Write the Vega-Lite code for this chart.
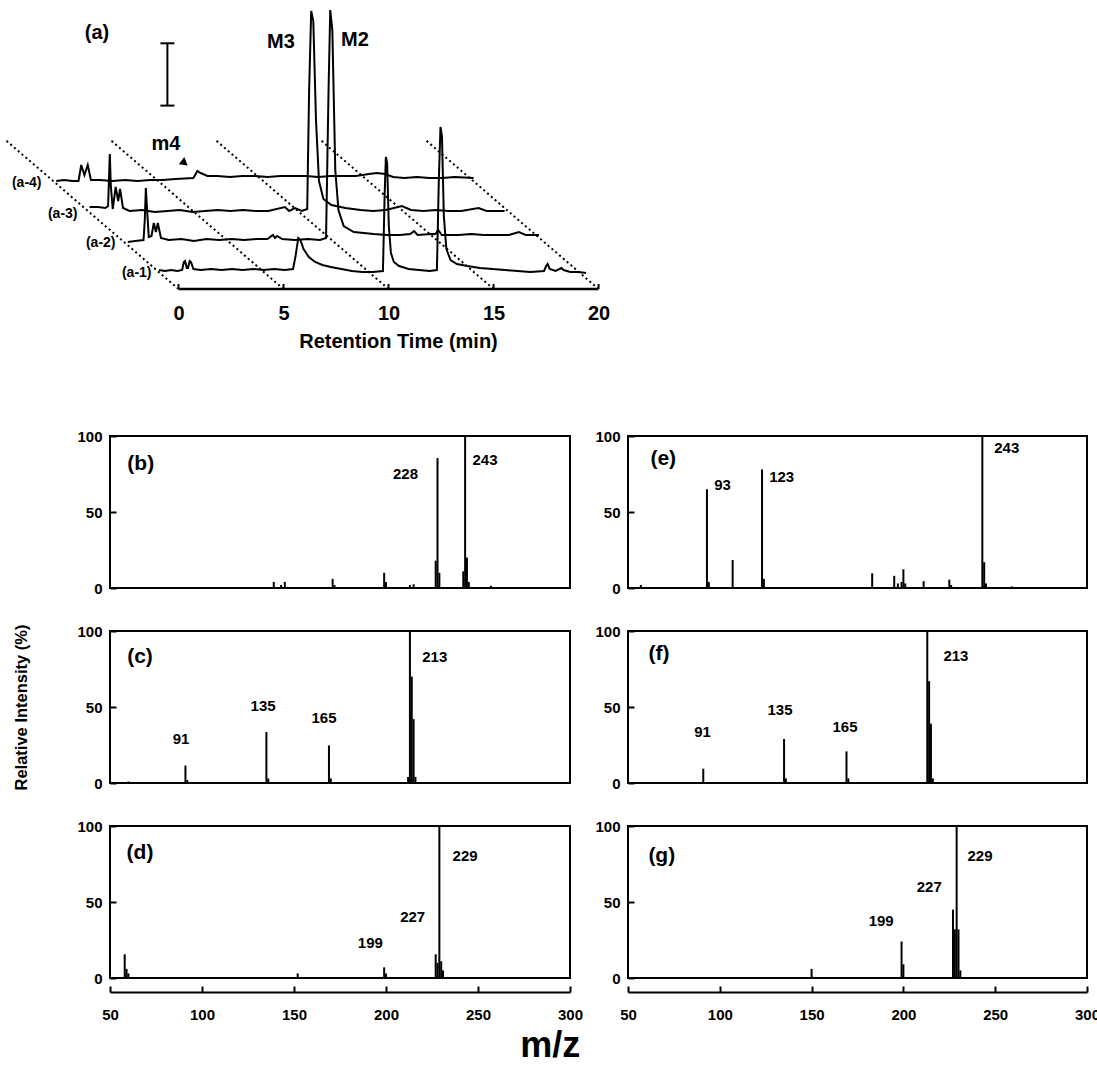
{
  "$schema": "https://vega.github.io/schema/vega-lite/v6.json",
  "padding": 0,
  "background": "white",
  "config": {
    "font": "Liberation Sans",
    "view": {"stroke": "black", "strokeWidth": 2},
    "axis": {"grid": false, "labelColor": "black", "titleColor": "black", "labelFont": "Liberation Sans", "titleFont": "Liberation Sans", "labelFontWeight": "bold", "titleFontWeight": "bold", "labelFlush": false, "labelOverlap": false, "tickColor": "black", "tickWidth": 2, "domainColor": "black", "domainWidth": 2, "labelFontSize": 15},
    "axisY": {"domain": false, "tickSize": -6, "labelPadding": 14},
    "axisX": {"tickSize": -6, "labelPadding": 21, "offset": 14},
    "text": {"font": "Liberation Sans", "fontWeight": "bold", "color": "black"},
    "rule": {"color": "black"},
    "line": {"color": "black"},
    "point": {"color": "black", "filled": true, "opacity": 1},
    "title": {"font": "Liberation Sans", "color": "black"}
  },
  "datasets": {
    "grid": [{"t": 0}, {"t": 5}, {"t": 10}, {"t": 15}, {"t": 20}],
    "axisline": [{"from": 0, "to": 20}],
    "tracelabels": [{"trace": "a-1", "label": "(a-1)"}, {"trace": "a-2", "label": "(a-2)"}, {"trace": "a-3", "label": "(a-3)"}, {"trace": "a-4", "label": "(a-4)"}],
    "annot": [{"t": -3.88, "h": 256, "text": "(a)"}, {"t": 4.88, "h": 247.5, "text": "M3"}, {"t": 8.4, "h": 249, "text": "M2"}, {"t": -0.6, "h": 145, "text": "m4"}],
    "arrow": [{"t": 0.29, "h": 126}],
    "scalebar": [{"t": -0.53, "lo": 183.4, "hi": 245.7}],
    "chrom": [
      {"trace":"a-1","t":0.12,"h":1},{"trace":"a-1","t":0.4,"h":0},{"trace":"a-1","t":0.7,"h":1},{"trace":"a-1","t":1.0,"h":0},{"trace":"a-1","t":1.22,"h":1},{"trace":"a-1","t":1.3,"h":9},{"trace":"a-1","t":1.36,"h":10},{"trace":"a-1","t":1.44,"h":3},{"trace":"a-1","t":1.5,"h":3},{"trace":"a-1","t":1.58,"h":10},{"trace":"a-1","t":1.64,"h":9},{"trace":"a-1","t":1.76,"h":2},{"trace":"a-1","t":2.1,"h":1},{"trace":"a-1","t":2.6,"h":2},{"trace":"a-1","t":3.1,"h":1},{"trace":"a-1","t":3.6,"h":2},{"trace":"a-1","t":4.1,"h":1},{"trace":"a-1","t":4.6,"h":2},{"trace":"a-1","t":5.1,"h":1},{"trace":"a-1","t":5.6,"h":2},{"trace":"a-1","t":6.1,"h":1},{"trace":"a-1","t":6.5,"h":2},{"trace":"a-1","t":6.62,"h":15},{"trace":"a-1","t":6.75,"h":33},{"trace":"a-1","t":6.85,"h":31},{"trace":"a-1","t":7.0,"h":22},{"trace":"a-1","t":7.25,"h":14},{"trace":"a-1","t":7.55,"h":9},{"trace":"a-1","t":7.9,"h":6},{"trace":"a-1","t":8.3,"h":4},{"trace":"a-1","t":8.8,"h":2},{"trace":"a-1","t":9.3,"h":0},{"trace":"a-1","t":9.8,"h":-1},{"trace":"a-1","t":10.3,"h":-1},{"trace":"a-1","t":10.78,"h":0},{"trace":"a-1","t":10.86,"h":75},{"trace":"a-1","t":10.92,"h":114},{"trace":"a-1","t":10.98,"h":108},{"trace":"a-1","t":11.06,"h":45},{"trace":"a-1","t":11.16,"h":18},{"trace":"a-1","t":11.3,"h":9},{"trace":"a-1","t":11.55,"h":5},{"trace":"a-1","t":12.0,"h":2},{"trace":"a-1","t":12.5,"h":1},{"trace":"a-1","t":13.0,"h":0},{"trace":"a-1","t":13.35,"h":1},{"trace":"a-1","t":13.44,"h":90},{"trace":"a-1","t":13.52,"h":144},{"trace":"a-1","t":13.59,"h":135},{"trace":"a-1","t":13.68,"h":55},{"trace":"a-1","t":13.8,"h":22},{"trace":"a-1","t":14.0,"h":11},{"trace":"a-1","t":14.3,"h":7},{"trace":"a-1","t":14.8,"h":5},{"trace":"a-1","t":15.4,"h":3},{"trace":"a-1","t":16.0,"h":2},{"trace":"a-1","t":16.6,"h":1},{"trace":"a-1","t":17.2,"h":0},{"trace":"a-1","t":17.8,"h":-1},{"trace":"a-1","t":18.45,"h":0},{"trace":"a-1","t":18.55,"h":5},{"trace":"a-1","t":18.62,"h":7},{"trace":"a-1","t":18.72,"h":2},{"trace":"a-1","t":19.0,"h":0},{"trace":"a-1","t":19.28,"h":3},{"trace":"a-1","t":19.38,"h":1},{"trace":"a-1","t":19.7,"h":-1},{"trace":"a-1","t":20.1,"h":-1},{"trace":"a-1","t":20.45,"h":-2},
      {"trace":"a-2","t":0.25,"h":-2},{"trace":"a-2","t":0.6,"h":-1},{"trace":"a-2","t":1.0,"h":0},{"trace":"a-2","t":1.06,"h":20},{"trace":"a-2","t":1.11,"h":52},{"trace":"a-2","t":1.17,"h":30},{"trace":"a-2","t":1.25,"h":3},{"trace":"a-2","t":1.38,"h":4},{"trace":"a-2","t":1.49,"h":17},{"trace":"a-2","t":1.59,"h":8},{"trace":"a-2","t":1.68,"h":17},{"trace":"a-2","t":1.83,"h":2},{"trace":"a-2","t":2.2,"h":0},{"trace":"a-2","t":2.8,"h":1},{"trace":"a-2","t":3.4,"h":-1},{"trace":"a-2","t":4.0,"h":1},{"trace":"a-2","t":4.6,"h":0},{"trace":"a-2","t":5.2,"h":1},{"trace":"a-2","t":5.8,"h":0},{"trace":"a-2","t":6.4,"h":1},{"trace":"a-2","t":6.9,"h":1},{"trace":"a-2","t":7.16,"h":5},{"trace":"a-2","t":7.26,"h":2},{"trace":"a-2","t":7.36,"h":4},{"trace":"a-2","t":7.6,"h":1},{"trace":"a-2","t":8.2,"h":0},{"trace":"a-2","t":8.8,"h":1},{"trace":"a-2","t":9.4,"h":0},{"trace":"a-2","t":9.69,"h":2},{"trace":"a-2","t":9.81,"h":150},{"trace":"a-2","t":9.89,"h":230},{"trace":"a-2","t":9.99,"h":210},{"trace":"a-2","t":10.13,"h":70},{"trace":"a-2","t":10.28,"h":30},{"trace":"a-2","t":10.53,"h":14},{"trace":"a-2","t":11.01,"h":8},{"trace":"a-2","t":11.96,"h":6},{"trace":"a-2","t":12.6,"h":5},{"trace":"a-2","t":13.2,"h":5},{"trace":"a-2","t":13.7,"h":6},{"trace":"a-2","t":13.88,"h":9},{"trace":"a-2","t":14.05,"h":5},{"trace":"a-2","t":14.7,"h":6},{"trace":"a-2","t":14.9,"h":6},{"trace":"a-2","t":15.03,"h":10},{"trace":"a-2","t":15.2,"h":5},{"trace":"a-2","t":16.0,"h":5},{"trace":"a-2","t":16.6,"h":6},{"trace":"a-2","t":17.2,"h":5},{"trace":"a-2","t":17.8,"h":5},{"trace":"a-2","t":18.4,"h":5},{"trace":"a-2","t":18.87,"h":8},{"trace":"a-2","t":19.2,"h":5},{"trace":"a-2","t":19.83,"h":5},
      {"trace":"a-3","t":0.1,"h":4},{"trace":"a-3","t":0.5,"h":4},{"trace":"a-3","t":0.85,"h":3},{"trace":"a-3","t":0.98,"h":5},{"trace":"a-3","t":1.06,"h":57},{"trace":"a-3","t":1.11,"h":25},{"trace":"a-3","t":1.2,"h":2},{"trace":"a-3","t":1.34,"h":24},{"trace":"a-3","t":1.46,"h":10},{"trace":"a-3","t":1.55,"h":22},{"trace":"a-3","t":1.69,"h":3},{"trace":"a-3","t":2.0,"h":0},{"trace":"a-3","t":2.6,"h":1},{"trace":"a-3","t":3.2,"h":-1},{"trace":"a-3","t":3.8,"h":0},{"trace":"a-3","t":4.4,"h":1},{"trace":"a-3","t":5.0,"h":-1},{"trace":"a-3","t":5.6,"h":0},{"trace":"a-3","t":6.2,"h":1},{"trace":"a-3","t":6.8,"h":0},{"trace":"a-3","t":7.4,"h":1},{"trace":"a-3","t":8.0,"h":0},{"trace":"a-3","t":8.6,"h":0},{"trace":"a-3","t":9.4,"h":4},{"trace":"a-3","t":9.6,"h":0},{"trace":"a-3","t":9.88,"h":3},{"trace":"a-3","t":10.2,"h":0},{"trace":"a-3","t":10.46,"h":2},{"trace":"a-3","t":10.55,"h":120},{"trace":"a-3","t":10.65,"h":200},{"trace":"a-3","t":10.75,"h":190},{"trace":"a-3","t":10.88,"h":90},{"trace":"a-3","t":11.02,"h":30},{"trace":"a-3","t":11.23,"h":12},{"trace":"a-3","t":11.61,"h":6},{"trace":"a-3","t":12.28,"h":3},{"trace":"a-3","t":13.0,"h":1},{"trace":"a-3","t":13.6,"h":0},{"trace":"a-3","t":14.2,"h":1},{"trace":"a-3","t":14.97,"h":5},{"trace":"a-3","t":15.4,"h":1},{"trace":"a-3","t":16.0,"h":0},{"trace":"a-3","t":16.6,"h":1},{"trace":"a-3","t":17.2,"h":0},{"trace":"a-3","t":17.8,"h":0},{"trace":"a-3","t":18.62,"h":3},{"trace":"a-3","t":19.0,"h":0},{"trace":"a-3","t":19.86,"h":0},
      {"trace":"a-4","t":0.13,"h":0},{"trace":"a-4","t":0.5,"h":1},{"trace":"a-4","t":0.9,"h":0},{"trace":"a-4","t":1.19,"h":0},{"trace":"a-4","t":1.32,"h":16},{"trace":"a-4","t":1.47,"h":6},{"trace":"a-4","t":1.63,"h":16},{"trace":"a-4","t":1.78,"h":1},{"trace":"a-4","t":2.2,"h":1},{"trace":"a-4","t":2.8,"h":0},{"trace":"a-4","t":3.4,"h":1},{"trace":"a-4","t":4.0,"h":0},{"trace":"a-4","t":4.6,"h":1},{"trace":"a-4","t":5.2,"h":1},{"trace":"a-4","t":5.8,"h":2},{"trace":"a-4","t":6.66,"h":3},{"trace":"a-4","t":6.85,"h":10},{"trace":"a-4","t":7.0,"h":8},{"trace":"a-4","t":7.33,"h":5},{"trace":"a-4","t":7.8,"h":5},{"trace":"a-4","t":8.4,"h":4},{"trace":"a-4","t":9.0,"h":5},{"trace":"a-4","t":9.6,"h":5},{"trace":"a-4","t":10.2,"h":4},{"trace":"a-4","t":10.8,"h":5},{"trace":"a-4","t":11.4,"h":5},{"trace":"a-4","t":12.0,"h":5},{"trace":"a-4","t":12.6,"h":4},{"trace":"a-4","t":13.2,"h":5},{"trace":"a-4","t":13.8,"h":5},{"trace":"a-4","t":14.4,"h":5},{"trace":"a-4","t":15.02,"h":7},{"trace":"a-4","t":15.4,"h":8},{"trace":"a-4","t":15.78,"h":7},{"trace":"a-4","t":16.17,"h":4},{"trace":"a-4","t":16.7,"h":3},{"trace":"a-4","t":17.3,"h":4},{"trace":"a-4","t":17.9,"h":3},{"trace":"a-4","t":18.5,"h":3},{"trace":"a-4","t":19.1,"h":4},{"trace":"a-4","t":20.0,"h":3}
    ],
    "peaks": [
      {"panel":"b","mz":139,"ri":4},{"panel":"b","mz":143,"ri":2},{"panel":"b","mz":145,"ri":4},{"panel":"b","mz":171,"ri":6},{"panel":"b","mz":172,"ri":2},{"panel":"b","mz":199,"ri":10},{"panel":"b","mz":200,"ri":4},{"panel":"b","mz":213,"ri":2},{"panel":"b","mz":215,"ri":2.5},{"panel":"b","mz":227,"ri":18},{"panel":"b","mz":228,"ri":85.5},{"panel":"b","mz":229,"ri":10},{"panel":"b","mz":242,"ri":11},{"panel":"b","mz":243,"ri":100},{"panel":"b","mz":244,"ri":20},{"panel":"b","mz":245,"ri":4},{"panel":"b","mz":257,"ri":1.5},
      {"panel":"c","mz":60,"ri":1},{"panel":"c","mz":91,"ri":11.5},{"panel":"c","mz":92,"ri":2},{"panel":"c","mz":135,"ri":33.5},{"panel":"c","mz":136,"ri":3},{"panel":"c","mz":169,"ri":24.7},{"panel":"c","mz":170,"ri":3},{"panel":"c","mz":212,"ri":4},{"panel":"c","mz":213,"ri":100},{"panel":"c","mz":214,"ri":70},{"panel":"c","mz":215,"ri":42},{"panel":"c","mz":216,"ri":4},
      {"panel":"d","mz":58,"ri":15.6},{"panel":"d","mz":59,"ri":6},{"panel":"d","mz":60,"ri":3},{"panel":"d","mz":152,"ri":3},{"panel":"d","mz":199,"ri":7},{"panel":"d","mz":200,"ri":3},{"panel":"d","mz":227,"ri":15.6},{"panel":"d","mz":228,"ri":10},{"panel":"d","mz":229,"ri":100},{"panel":"d","mz":230,"ri":11},{"panel":"d","mz":231,"ri":5},
      {"panel":"e","mz":57,"ri":2},{"panel":"e","mz":93,"ri":65},{"panel":"e","mz":94,"ri":4},{"panel":"e","mz":107,"ri":18.4},{"panel":"e","mz":123,"ri":78},{"panel":"e","mz":124,"ri":6},{"panel":"e","mz":183,"ri":9.7},{"panel":"e","mz":195,"ri":8},{"panel":"e","mz":197,"ri":3},{"panel":"e","mz":199,"ri":4},{"panel":"e","mz":200,"ri":12.3},{"panel":"e","mz":201,"ri":3},{"panel":"e","mz":211,"ri":4.5},{"panel":"e","mz":225,"ri":5.5},{"panel":"e","mz":226,"ri":2},{"panel":"e","mz":243,"ri":100},{"panel":"e","mz":244,"ri":17},{"panel":"e","mz":245,"ri":3},{"panel":"e","mz":259,"ri":1},
      {"panel":"f","mz":91,"ri":9.4},{"panel":"f","mz":135,"ri":29},{"panel":"f","mz":136,"ri":3},{"panel":"f","mz":169,"ri":20.8},{"panel":"f","mz":170,"ri":3},{"panel":"f","mz":213,"ri":100},{"panel":"f","mz":214,"ri":67},{"panel":"f","mz":215,"ri":39},{"panel":"f","mz":216,"ri":3},
      {"panel":"g","mz":150,"ri":6},{"panel":"g","mz":199,"ri":24},{"panel":"g","mz":200,"ri":9},{"panel":"g","mz":227,"ri":45},{"panel":"g","mz":228,"ri":32},{"panel":"g","mz":229,"ri":100},{"panel":"g","mz":230,"ri":32},{"panel":"g","mz":231,"ri":5}
    ],
    "labels": [
      {"panel":"b","text":"228","lx":210.6,"ly":75.3},{"panel":"b","text":"243","lx":253.8,"ly":84.5},
      {"panel":"c","text":"91","lx":88.6,"ly":29},{"panel":"c","text":"135","lx":133.2,"ly":50.4},{"panel":"c","text":"165","lx":166.3,"ly":43},{"panel":"c","text":"213","lx":226.5,"ly":83},
      {"panel":"d","text":"199","lx":191.5,"ly":23.2},{"panel":"d","text":"227","lx":214.5,"ly":40},{"panel":"d","text":"229","lx":243,"ly":80.5},
      {"panel":"e","text":"93","lx":101.5,"ly":68},{"panel":"e","text":"123","lx":133.7,"ly":73.3},{"panel":"e","text":"243","lx":256.3,"ly":92},
      {"panel":"f","text":"91","lx":90.6,"ly":33.5},{"panel":"f","text":"135","lx":132.8,"ly":48},{"panel":"f","text":"165","lx":168.2,"ly":36.8},{"panel":"f","text":"213","lx":228.6,"ly":83.5},
      {"panel":"g","text":"199","lx":187.9,"ly":37.8},{"panel":"g","text":"227","lx":214.1,"ly":60},{"panel":"g","text":"229","lx":241.7,"ly":80.4}
    ],
    "panels": [
      {"panel":"b","name":"(b)","lx":66.7,"ly":81.8},{"panel":"c","name":"(c)","lx":66.3,"ly":82.6},{"panel":"d","name":"(d)","lx":66.3,"ly":82},
      {"panel":"e","name":"(e)","lx":69.2,"ly":85},{"panel":"f","name":"(f)","lx":66.9,"ly":85},{"panel":"g","name":"(g)","lx":68.4,"ly":80.4}
    ]
  },
  "title": {"text": "m/z", "orient": "bottom", "anchor": "middle", "offset": 6, "fontSize": 36, "fontWeight": "bold"},
  "spacing": 147,
  "bounds": "flush",
  "vconcat": [
    {
      "width": 796,
      "height": 289,
      "view": {"stroke": null},
      "layer": [
        {
          "data": {"name": "grid"},
          "mark": {"type": "rule", "strokeDash": [2, 3], "strokeWidth": 2, "x2Offset": -173, "y2Offset": -149},
          "encoding": {
            "x": {"field": "t", "type": "quantitative", "scale": {"domain": [-8.5, 29.4], "nice": false, "zero": false},
                  "axis": {"values": [0, 5, 10, 15, 20], "domain": false, "ticks": false, "tickSize": 0, "offset": 0, "labelPadding": 14, "labelFontSize": 20, "title": "Retention Time (min)", "titleFontSize": 20, "titlePadding": 8}},
            "x2": {"field": "t"},
            "y": {"datum": 0, "type": "quantitative", "scale": {"domain": [0, 289], "nice": false, "zero": false}, "axis": null},
            "y2": {"datum": 0}
          }
        },
        {
          "data": {"name": "axisline"},
          "mark": {"type": "rule", "strokeWidth": 2.5},
          "encoding": {"x": {"field": "from", "type": "quantitative"}, "x2": {"field": "to"}, "y": {"datum": 0, "type": "quantitative", "axis": null}}
        },
        {
          "data": {"name": "grid"},
          "mark": {"type": "rule", "strokeWidth": 2},
          "encoding": {"x": {"field": "t", "type": "quantitative"}, "y": {"datum": 0, "type": "quantitative", "axis": null}, "y2": {"datum": 5}}
        },
        {
          "data": {"name": "chrom"},
          "transform": [{"filter": "datum.trace === 'a-1'"}],
          "mark": {"type": "line", "strokeWidth": 2, "xOffset": -22, "yOffset": -18},
          "encoding": {"x": {"field": "t", "type": "quantitative"}, "y": {"field": "h", "type": "quantitative", "axis": null}}
        },
        {
          "data": {"name": "chrom"},
          "transform": [{"filter": "datum.trace === 'a-2'"}],
          "mark": {"type": "line", "strokeWidth": 2, "xOffset": -56, "yOffset": -49},
          "encoding": {"x": {"field": "t", "type": "quantitative"}, "y": {"field": "h", "type": "quantitative", "axis": null}}
        },
        {
          "data": {"name": "chrom"},
          "transform": [{"filter": "datum.trace === 'a-3'"}],
          "mark": {"type": "line", "strokeWidth": 2, "xOffset": -91, "yOffset": -78},
          "encoding": {"x": {"field": "t", "type": "quantitative"}, "y": {"field": "h", "type": "quantitative", "axis": null}}
        },
        {
          "data": {"name": "chrom"},
          "transform": [{"filter": "datum.trace === 'a-4'"}],
          "mark": {"type": "line", "strokeWidth": 2, "xOffset": -125, "yOffset": -108},
          "encoding": {"x": {"field": "t", "type": "quantitative"}, "y": {"field": "h", "type": "quantitative", "axis": null}}
        },
        {
          "data": {"name": "tracelabels"},
          "transform": [{"filter": "datum.trace === 'a-1'"}],
          "mark": {"type": "text", "align": "right", "baseline": "middle", "fontSize": 14, "dx": -27, "dy": -16},
          "encoding": {"x": {"datum": 0, "type": "quantitative"}, "y": {"datum": 0, "type": "quantitative", "axis": null}, "text": {"field": "label"}}
        },
        {
          "data": {"name": "tracelabels"},
          "transform": [{"filter": "datum.trace === 'a-2'"}],
          "mark": {"type": "text", "align": "right", "baseline": "middle", "fontSize": 14, "dx": -63, "dy": -46},
          "encoding": {"x": {"datum": 0, "type": "quantitative"}, "y": {"datum": 0, "type": "quantitative", "axis": null}, "text": {"field": "label"}}
        },
        {
          "data": {"name": "tracelabels"},
          "transform": [{"filter": "datum.trace === 'a-3'"}],
          "mark": {"type": "text", "align": "right", "baseline": "middle", "fontSize": 14, "dx": -101, "dy": -75},
          "encoding": {"x": {"datum": 0, "type": "quantitative"}, "y": {"datum": 0, "type": "quantitative", "axis": null}, "text": {"field": "label"}}
        },
        {
          "data": {"name": "tracelabels"},
          "transform": [{"filter": "datum.trace === 'a-4'"}],
          "mark": {"type": "text", "align": "right", "baseline": "middle", "fontSize": 14, "dx": -137, "dy": -106},
          "encoding": {"x": {"datum": 0, "type": "quantitative"}, "y": {"datum": 0, "type": "quantitative", "axis": null}, "text": {"field": "label"}}
        },
        {
          "data": {"name": "annot"},
          "mark": {"type": "text", "align": "center", "baseline": "middle", "fontSize": 20},
          "encoding": {"x": {"field": "t", "type": "quantitative"}, "y": {"field": "h", "type": "quantitative", "axis": null}, "text": {"field": "text"}}
        },
        {
          "data": {"name": "arrow"},
          "mark": {"type": "point", "shape": "triangle-right", "size": 80, "angle": 38, "filled": true, "strokeWidth": 0},
          "encoding": {"x": {"field": "t", "type": "quantitative"}, "y": {"field": "h", "type": "quantitative", "axis": null}}
        },
        {
          "data": {"name": "scalebar"},
          "mark": {"type": "rule", "strokeWidth": 2},
          "encoding": {"x": {"field": "t", "type": "quantitative"}, "y": {"field": "lo", "type": "quantitative", "axis": null}, "y2": {"field": "hi"}}
        },
        {
          "data": {"name": "scalebar"},
          "mark": {"type": "rule", "strokeWidth": 2, "xOffset": -7, "x2Offset": 7},
          "encoding": {"x": {"field": "t", "type": "quantitative"}, "x2": {"field": "t"}, "y": {"field": "lo", "type": "quantitative", "axis": null}}
        },
        {
          "data": {"name": "scalebar"},
          "mark": {"type": "rule", "strokeWidth": 2, "xOffset": -7, "x2Offset": 7},
          "encoding": {"x": {"field": "t", "type": "quantitative"}, "x2": {"field": "t"}, "y": {"field": "hi", "type": "quantitative", "axis": null}}
        }
      ]
    },
    {
      "columns": 3,
      "spacing": {"row": 43, "column": 58},
      "bounds": "flush",
      "concat": [
        {"width": 52, "height": 152, "view": {"stroke": null}, "data": {"values": []}, "mark": "point"},
        {
          "width": 460, "height": 152,
          "layer": [
            {"data": {"name": "peaks"}, "transform": [{"filter": "datum.panel === 'b'"}], "mark": {"type": "rule", "strokeWidth": 2},
             "encoding": {"x": {"field": "mz", "type": "quantitative", "scale": {"domain": [50, 300], "nice": false, "zero": false}, "axis": null},
                          "y": {"field": "ri", "type": "quantitative", "scale": {"domain": [0, 100], "nice": false}, "axis": {"values": [0, 50, 100], "title": null}},
                          "y2": {"datum": 0}}},
            {"data": {"name": "labels"}, "transform": [{"filter": "datum.panel === 'b'"}], "mark": {"type": "text", "fontSize": 15, "baseline": "middle"},
             "encoding": {"x": {"field": "lx", "type": "quantitative"}, "y": {"field": "ly", "type": "quantitative"}, "text": {"field": "text"}}},
            {"data": {"name": "panels"}, "transform": [{"filter": "datum.panel === 'b'"}], "mark": {"type": "text", "fontSize": 21, "baseline": "middle"},
             "encoding": {"x": {"field": "lx", "type": "quantitative"}, "y": {"field": "ly", "type": "quantitative"}, "text": {"field": "name"}}}
          ]
        },
        {
          "width": 459, "height": 152,
          "layer": [
            {"data": {"name": "peaks"}, "transform": [{"filter": "datum.panel === 'e'"}], "mark": {"type": "rule", "strokeWidth": 2},
             "encoding": {"x": {"field": "mz", "type": "quantitative", "scale": {"domain": [50, 300], "nice": false, "zero": false}, "axis": null},
                          "y": {"field": "ri", "type": "quantitative", "scale": {"domain": [0, 100], "nice": false}, "axis": {"values": [0, 50, 100], "title": null}},
                          "y2": {"datum": 0}}},
            {"data": {"name": "labels"}, "transform": [{"filter": "datum.panel === 'e'"}], "mark": {"type": "text", "fontSize": 15, "baseline": "middle"},
             "encoding": {"x": {"field": "lx", "type": "quantitative"}, "y": {"field": "ly", "type": "quantitative"}, "text": {"field": "text"}}},
            {"data": {"name": "panels"}, "transform": [{"filter": "datum.panel === 'e'"}], "mark": {"type": "text", "fontSize": 21, "baseline": "middle"},
             "encoding": {"x": {"field": "lx", "type": "quantitative"}, "y": {"field": "ly", "type": "quantitative"}, "text": {"field": "name"}}}
          ]
        },
        {"width": 52, "height": 152, "view": {"stroke": null}, "data": {"values": []}, "mark": "point"},
        {
          "width": 460, "height": 152,
          "layer": [
            {"data": {"name": "peaks"}, "transform": [{"filter": "datum.panel === 'c'"}], "mark": {"type": "rule", "strokeWidth": 2},
             "encoding": {"x": {"field": "mz", "type": "quantitative", "scale": {"domain": [50, 300], "nice": false, "zero": false}, "axis": null},
                          "y": {"field": "ri", "type": "quantitative", "scale": {"domain": [0, 100], "nice": false}, "axis": {"values": [0, 50, 100], "title": "Relative Intensity (%)", "titleFontSize": 16.5, "titlePadding": 47}},
                          "y2": {"datum": 0}}},
            {"data": {"name": "labels"}, "transform": [{"filter": "datum.panel === 'c'"}], "mark": {"type": "text", "fontSize": 15, "baseline": "middle"},
             "encoding": {"x": {"field": "lx", "type": "quantitative"}, "y": {"field": "ly", "type": "quantitative"}, "text": {"field": "text"}}},
            {"data": {"name": "panels"}, "transform": [{"filter": "datum.panel === 'c'"}], "mark": {"type": "text", "fontSize": 21, "baseline": "middle"},
             "encoding": {"x": {"field": "lx", "type": "quantitative"}, "y": {"field": "ly", "type": "quantitative"}, "text": {"field": "name"}}}
          ]
        },
        {
          "width": 459, "height": 152,
          "layer": [
            {"data": {"name": "peaks"}, "transform": [{"filter": "datum.panel === 'f'"}], "mark": {"type": "rule", "strokeWidth": 2},
             "encoding": {"x": {"field": "mz", "type": "quantitative", "scale": {"domain": [50, 300], "nice": false, "zero": false}, "axis": null},
                          "y": {"field": "ri", "type": "quantitative", "scale": {"domain": [0, 100], "nice": false}, "axis": {"values": [0, 50, 100], "title": null}},
                          "y2": {"datum": 0}}},
            {"data": {"name": "labels"}, "transform": [{"filter": "datum.panel === 'f'"}], "mark": {"type": "text", "fontSize": 15, "baseline": "middle"},
             "encoding": {"x": {"field": "lx", "type": "quantitative"}, "y": {"field": "ly", "type": "quantitative"}, "text": {"field": "text"}}},
            {"data": {"name": "panels"}, "transform": [{"filter": "datum.panel === 'f'"}], "mark": {"type": "text", "fontSize": 21, "baseline": "middle"},
             "encoding": {"x": {"field": "lx", "type": "quantitative"}, "y": {"field": "ly", "type": "quantitative"}, "text": {"field": "name"}}}
          ]
        },
        {"width": 52, "height": 152, "view": {"stroke": null}, "data": {"values": []}, "mark": "point"},
        {
          "width": 460, "height": 152,
          "layer": [
            {"data": {"name": "peaks"}, "transform": [{"filter": "datum.panel === 'd'"}], "mark": {"type": "rule", "strokeWidth": 2},
             "encoding": {"x": {"field": "mz", "type": "quantitative", "scale": {"domain": [50, 300], "nice": false, "zero": false}, "axis": {"values": [50, 100, 150, 200, 250, 300], "title": null}},
                          "y": {"field": "ri", "type": "quantitative", "scale": {"domain": [0, 100], "nice": false}, "axis": {"values": [0, 50, 100], "title": null}},
                          "y2": {"datum": 0}}},
            {"data": {"name": "labels"}, "transform": [{"filter": "datum.panel === 'd'"}], "mark": {"type": "text", "fontSize": 15, "baseline": "middle"},
             "encoding": {"x": {"field": "lx", "type": "quantitative"}, "y": {"field": "ly", "type": "quantitative"}, "text": {"field": "text"}}},
            {"data": {"name": "panels"}, "transform": [{"filter": "datum.panel === 'd'"}], "mark": {"type": "text", "fontSize": 21, "baseline": "middle"},
             "encoding": {"x": {"field": "lx", "type": "quantitative"}, "y": {"field": "ly", "type": "quantitative"}, "text": {"field": "name"}}}
          ]
        },
        {
          "width": 459, "height": 152,
          "layer": [
            {"data": {"name": "peaks"}, "transform": [{"filter": "datum.panel === 'g'"}], "mark": {"type": "rule", "strokeWidth": 2},
             "encoding": {"x": {"field": "mz", "type": "quantitative", "scale": {"domain": [50, 300], "nice": false, "zero": false}, "axis": {"values": [50, 100, 150, 200, 250, 300], "title": null}},
                          "y": {"field": "ri", "type": "quantitative", "scale": {"domain": [0, 100], "nice": false}, "axis": {"values": [0, 50, 100], "title": null}},
                          "y2": {"datum": 0}}},
            {"data": {"name": "labels"}, "transform": [{"filter": "datum.panel === 'g'"}], "mark": {"type": "text", "fontSize": 15, "baseline": "middle"},
             "encoding": {"x": {"field": "lx", "type": "quantitative"}, "y": {"field": "ly", "type": "quantitative"}, "text": {"field": "text"}}},
            {"data": {"name": "panels"}, "transform": [{"filter": "datum.panel === 'g'"}], "mark": {"type": "text", "fontSize": 21, "baseline": "middle"},
             "encoding": {"x": {"field": "lx", "type": "quantitative"}, "y": {"field": "ly", "type": "quantitative"}, "text": {"field": "name"}}}
          ]
        }
      ]
    }
  ]
}
